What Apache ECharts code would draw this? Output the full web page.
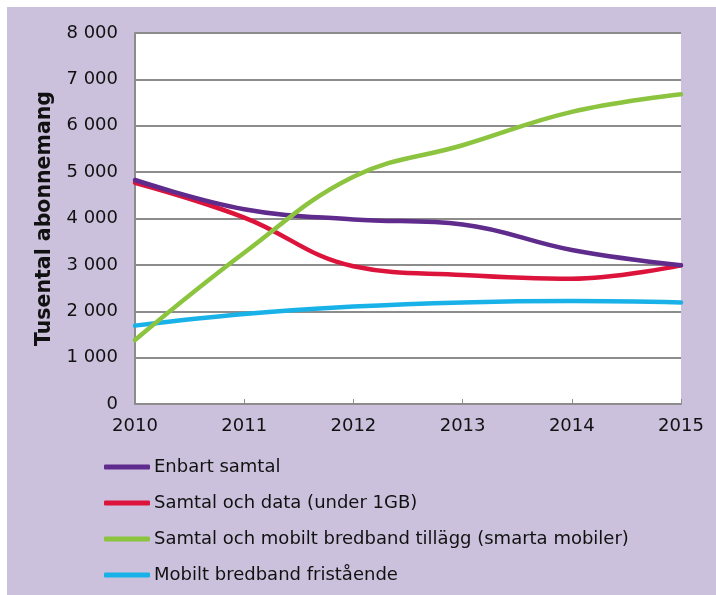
<!DOCTYPE html>
<html lang="sv">
<head>
<meta charset="UTF-8">
<title>Tusental abonnemang 2010-2015</title>
<script src="https://cdn.jsdelivr.net/npm/echarts@6/dist/echarts.min.js"></script>
<style>
  html, body { margin: 0; padding: 0; background: #fff; }
  #main { width: 716px; height: 595px; }
</style>
</head>
<body>
<div id="main"></div>
<script type="text/javascript">
// years on the x axis
const years = ['2010', '2011', '2012', '2013', '2014', '2015'];

// values in thousands of subscriptions
const enbartSamtal = [4830, 4200, 3980, 3870, 3320, 2990];
const samtalData = [4770, 4020, 2970, 2780, 2700, 2990];
const smartaMobiler = [1380, 3260, 4900, 5580, 6300, 6680];
const bredbandFristaende = [1690, 1940, 2100, 2190, 2220, 2190];

const seriesNames = [
    'Enbart samtal',
    'Samtal och data (under 1GB)',
    'Samtal och mobilt bredband tillägg (smarta mobiler)',
    'Mobilt bredband fristående'
];
const colors = ['#5f2b8d', '#dc143c', '#8cc43f', '#19b2e8'];

const font = 'Verdana, "DejaVu Sans", sans-serif';

let myChart = echarts.init(document.getElementById('main'));

function lineSeries(name, data, color, z) {
    return {
        name: name,
        type: 'line',
        data: data,
        smooth: 0.4,
        symbol: 'none',
        z: z,
        lineStyle: { color: color, width: 4.5, cap: 'round' },
        itemStyle: { color: color }
    };
}

let options = {
    backgroundColor: '#ffffff',
    animation: false,
    // lavender panel behind everything
    graphic: [{
        type: 'rect',
        left: 7, top: 7,
        shape: { width: 709, height: 588 },
        style: { fill: '#cbc1dc' },
        z: -10
    }],
    grid: {
        left: 135, right: 35, top: 33, bottom: 191,
        show: true,
        backgroundColor: '#ffffff',
        borderWidth: 0
    },
    xAxis: {
        type: 'category',
        data: years,
        boundaryGap: false,
        axisLine: { lineStyle: { color: '#8c8c8c', width: 2 } },
        axisTick: { inside: true, length: 5, lineStyle: { color: '#8c8c8c' } },
        axisLabel: { color: '#111', fontFamily: font, fontSize: 18, margin: 13 },
        splitLine: { show: false }
    },
    yAxis: {
        type: 'value',
        min: 0, max: 8000, interval: 1000,
        name: 'Tusental abonnemang',
        nameLocation: 'middle',
        nameGap: 77,
        nameTextStyle: { color: '#111', fontFamily: font, fontSize: 20.5, fontWeight: 'bold' },
        axisLine: { show: true, lineStyle: { color: '#8c8c8c', width: 2 } },
        axisTick: { show: false },
        axisLabel: {
            color: '#111', fontFamily: font, fontSize: 18, margin: 17,
            formatter: v => v === 0 ? '0' : String(v).replace(/(\d)(?=(\d{3})+$)/, '$1 ')
        },
        splitLine: { lineStyle: { color: '#8c8c8c', width: 2 } }
    },
    legend: {
        orient: 'vertical',
        left: 104, top: 456,
        padding: 0,
        itemWidth: 46, itemHeight: 5,
        itemGap: 14,
        icon: 'roundRect',
        data: seriesNames,
        textStyle: { color: '#111', fontFamily: font, fontSize: 18, lineHeight: 22, padding: [0, 0, 0, -1] }
    },
    series: [
        lineSeries(seriesNames[0], enbartSamtal, colors[0], 4),
        lineSeries(seriesNames[1], samtalData, colors[1], 3),
        lineSeries(seriesNames[2], smartaMobiler, colors[2], 5),
        lineSeries(seriesNames[3], bredbandFristaende, colors[3], 2)
    ]
};

myChart.setOption(options);

window.addEventListener('resize', () => {
    myChart.resize();
});
</script>
</body>
</html>
